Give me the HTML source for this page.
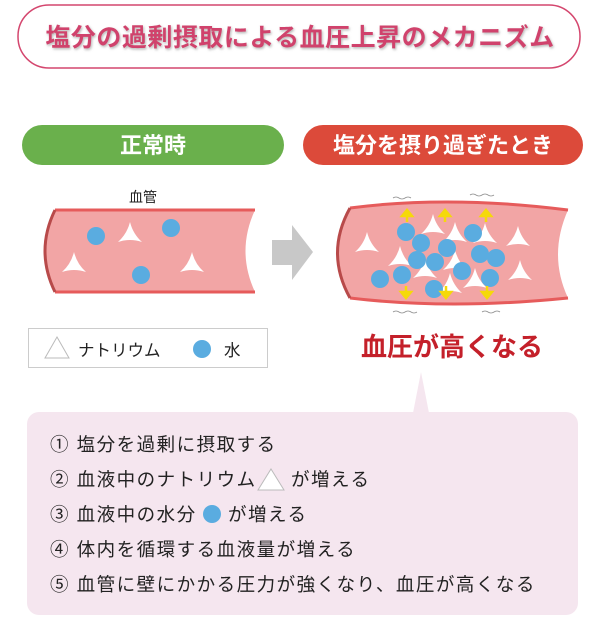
<!DOCTYPE html>
<html><head><meta charset="utf-8"><style>
html,body{margin:0;padding:0;background:#fff;width:600px;height:643px;overflow:hidden}
svg{display:block}
text{font-family:"Liberation Sans","Noto Sans CJK JP",sans-serif}
</style></head><body>
<svg width="600" height="643" viewBox="0 0 600 643" xmlns="http://www.w3.org/2000/svg">
<defs>
<filter id="sh" x="-5%" y="-20%" width="110%" height="140%"><feDropShadow dx="1" dy="1.5" stdDeviation="1.2" flood-color="#999" flood-opacity="0.7"/></filter>
<g id="tri"><path d="M0,-12 Q3,0 12,8 Q0,4 -12,8 Q-3,0 0,-12Z" fill="#fff"/></g>
</defs>
<rect x="18" y="5" width="562" height="63" rx="31" fill="#fff" stroke="#d4466e" stroke-width="1.5"/>
<text x="300" y="46" text-anchor="middle" font-size="25" font-weight="bold" letter-spacing="0.5" fill="#d0426c" filter="url(#sh)">塩分の過剰摂取による血圧上昇のメカニズム</text>

<rect x="22" y="125" width="262" height="40" rx="20" fill="#6ab04c"/>
<text x="153" y="153" text-anchor="middle" font-size="22" font-weight="bold" fill="#fff">正常時</text>
<rect x="303" y="125" width="280" height="40" rx="20" fill="#dc4a3a"/>
<text x="443" y="153" text-anchor="middle" font-size="22" font-weight="bold" fill="#fff">塩分を摂り過ぎたとき</text>

<text x="143" y="202" text-anchor="middle" font-size="14" fill="#222">血管</text>
<!-- left vessel -->
<path d="M55,210 L255,210 Q236,251 255,292 L55,292 Q35,251 55,210Z" fill="#f2a5a5"/>
<path d="M55,210 L255,210 M55,292 L255,292" stroke="#e65b5b" stroke-width="3"/>
<path d="M55,210 Q35,251 55,292" stroke="#b84a4a" stroke-width="3" fill="none"/>
<circle cx="96" cy="236" r="9" fill="#5aace0"/>
<circle cx="171" cy="228" r="9" fill="#5aace0"/>
<circle cx="141" cy="275" r="9" fill="#5aace0"/>
<use href="#tri" x="130" y="234"/><use href="#tri" x="74" y="264"/><use href="#tri" x="192" y="264"/>

<!-- arrow -->
<path d="M272,240 L292,240 L292,225 L313,252 L292,280 L292,265 L272,265Z" fill="#c8c8c8"/>

<!-- right vessel -->
<path d="M350,208 Q450,195 568,210 Q548,255 568,298 Q450,310 350,298 Q325,253 350,208Z" fill="#f2a5a5"/>
<path d="M350,208 Q450,195 568,210 M350,298 Q450,310 568,298" stroke="#e65b5b" stroke-width="3" fill="none"/>
<path d="M350,208 Q325,253 350,298" stroke="#b84a4a" stroke-width="3" fill="none"/>
<g fill="none" stroke="#888" stroke-width="0.8">
<path d="M393,198 q3,-2 6,0 t6,0 t6,0"/><path d="M470,195 q3,-2 6,0 t6,0 t6,0 t6,0"/>
<path d="M393,312 q3,-2 6,0 t6,0 t6,0 t6,0"/><path d="M482,312 q3,-2 6,0 t6,0 t6,0"/>
</g>
<use href="#tri" x="367" y="244"/><use href="#tri" x="433" y="226"/><use href="#tri" x="455" y="234"/><use href="#tri" x="485" y="235"/><use href="#tri" x="518" y="238"/><use href="#tri" x="520" y="272"/><use href="#tri" x="400" y="258"/><use href="#tri" x="425" y="270"/><use href="#tri" x="455" y="262"/><use href="#tri" x="450" y="285"/><use href="#tri" x="475" y="280"/>
<g fill="#5aace0">
<circle cx="406" cy="232" r="9"/><circle cx="421" cy="243" r="9"/><circle cx="473" cy="233" r="9"/><circle cx="447" cy="248" r="9"/><circle cx="417" cy="260" r="9"/><circle cx="435" cy="262" r="9"/><circle cx="480" cy="254" r="9"/><circle cx="496" cy="258" r="9"/><circle cx="380" cy="279" r="9"/><circle cx="402" cy="275" r="9"/><circle cx="462" cy="271" r="9"/><circle cx="490" cy="278" r="9"/><circle cx="434" cy="289" r="9"/>
</g>
<g stroke="#f5d90a" stroke-width="2.5" fill="#f5d90a">
<path d="M407,222 v-8"/><path d="M402,216 l5,-6 l5,6z"/>
<path d="M445,222 v-8"/><path d="M440,216 l5,-6 l5,6z"/>
<path d="M486,222 v-8"/><path d="M481,216 l5,-6 l5,6z"/>
<path d="M406,286 v8"/><path d="M401,292 l5,6 l5,-6z"/>
<path d="M446,286 v8"/><path d="M441,292 l5,6 l5,-6z"/>
<path d="M487,286 v8"/><path d="M482,292 l5,6 l5,-6z"/>
</g>
<text x="452" y="356" text-anchor="middle" font-size="26" font-weight="bold" fill="#c4202a">血圧が高くなる</text>

<!-- legend -->
<rect x="28.5" y="328.5" width="239" height="39" fill="#fff" stroke="#ccc"/>
<path d="M57,337 L69,358 L45,358Z" fill="#fff" stroke="#bbb" stroke-width="1"/>
<text x="78" y="356" font-size="16.5" fill="#222">ナトリウム</text>
<circle cx="202" cy="349" r="9" fill="#5aace0"/>
<text x="224" y="356" font-size="16.5" fill="#222">水</text>

<!-- bottom box -->
<path d="M413,413 L421,372 L429,413Z" fill="#f5e6ef"/>
<rect x="27" y="412" width="551" height="203" rx="12" fill="#f5e6ef"/>
<g font-size="18.5" letter-spacing="1.5" fill="#222">
<text x="50" y="451">① 塩分を過剰に摂取する</text>
<text x="50" y="486">② 血液中のナトリウム</text>
<text x="291" y="486">が増える</text>
<text x="50" y="521">③ 血液中の水分</text>
<text x="228" y="521">が増える</text>
<text x="50" y="556">④ 体内を循環する血液量が増える</text>
<text x="50" y="591">⑤ 血管に壁にかかる圧力が強くなり、血圧が高くなる</text>
</g>
<path d="M271,469 L284,490 L258,490Z" fill="#fff" stroke="#bbb"/>
<circle cx="212" cy="514" r="9" fill="#5aace0"/>
</svg>
</body></html>
